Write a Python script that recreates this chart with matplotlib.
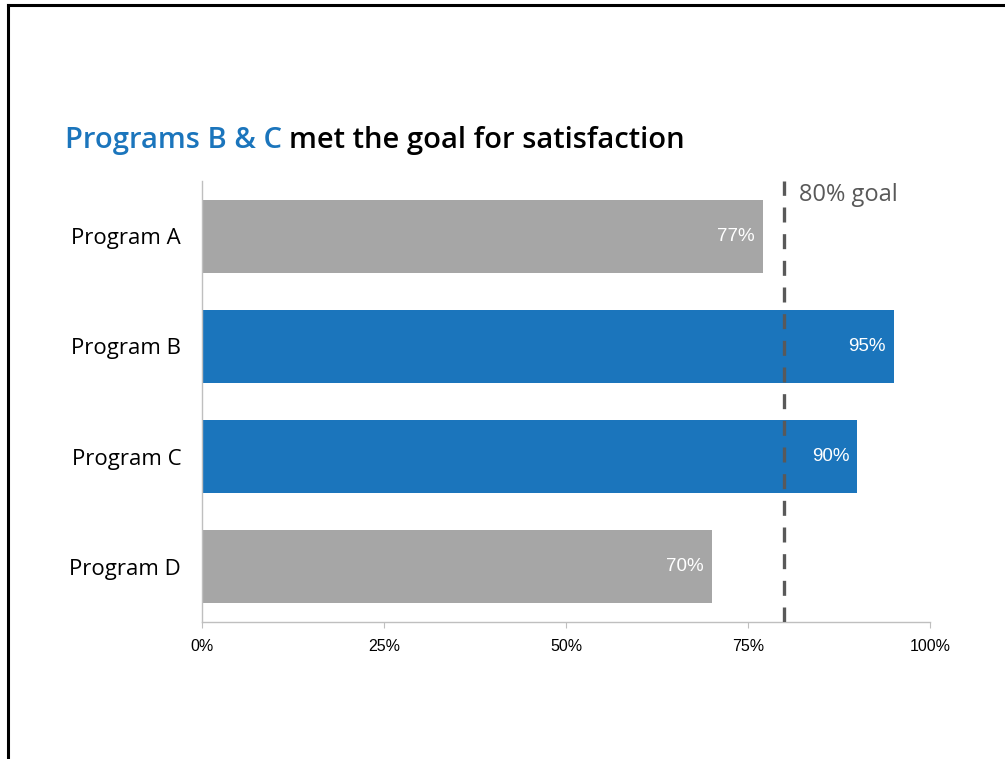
import matplotlib.pyplot as plt
from matplotlib.lines import Line2D

programs = ["Program A", "Program B", "Program C", "Program D"]
satisfaction = [77, 95, 90, 70]
met_goal = [False, True, True, False]
goal = 80
ticks = [0, 25, 50, 75, 100]

BLUE = "#1B75BC"
GRAY = "#A6A6A6"
DARK = "#595959"

plt.rcParams["font.family"] = ["Liberation Sans", "DejaVu Sans"]

fig = plt.figure(figsize=(10.05, 7.59), dpi=100)
ax = fig.add_axes([202 / 1005, 1 - 622 / 759, 728 / 1005, 441 / 759])

colors = [BLUE if m else GRAY for m in met_goal]
ypos = range(len(programs))
ax.barh(ypos, satisfaction, height=0.66, color=colors, zorder=2)

for y, v in zip(ypos, satisfaction):
    ax.text(v - 1.1, y, f"{v}%", color="white", ha="right", va="center",
            fontsize=13.5, zorder=4)

ax.axvline(goal, color=DARK, lw=2.4, ls=(0, (4.5, 3.5)), zorder=3)
ax.text(goal + 2.0, -0.37, f"{goal}% goal", color=DARK, fontsize=17,
        family=["Open Sans", "DejaVu Sans"], ha="left", va="center")

ax.set_xlim(0, 100)
ax.set_ylim(3.5, -0.5)
ax.set_xticks(ticks)
ax.set_xticklabels([f"{t}%" for t in ticks], fontsize=11.5)
ax.set_yticks(list(ypos))
ax.set_yticklabels(programs, fontsize=16, family=["Open Sans", "DejaVu Sans"])
ax.tick_params(axis="y", length=0, pad=15)
ax.tick_params(axis="x", length=4, color="#BFBFBF", pad=8)
for side in ["top", "right"]:
    ax.spines[side].set_visible(False)
for side in ["left", "bottom"]:
    ax.spines[side].set_color("#BFBFBF")
    ax.spines[side].set_linewidth(1)

# two-colour title
title_font = dict(fontsize=21, family=["Open Sans", "DejaVu Sans"], weight="semibold",
                  va="baseline")
t1 = fig.text(65 / 1005, 1 - 148 / 759, "Programs B & C", color=BLUE, **title_font)
fig.canvas.draw()
bb = t1.get_window_extent()
fig.text(bb.x1 / 1005 + 0.007, 1 - 148 / 759, "met the goal for satisfaction",
         color="black", **title_font)

# page frame along top and left
fig.add_artist(Line2D([8 / 1005, 1.0], [1 - 5 / 759, 1 - 5 / 759], color="black", lw=2.2,
                      transform=fig.transFigure))
fig.add_artist(Line2D([8 / 1005, 8 / 1005], [0, 1 - 5 / 759], color="black", lw=2.2,
                      transform=fig.transFigure))

fig.savefig("out.png", dpi=100)
